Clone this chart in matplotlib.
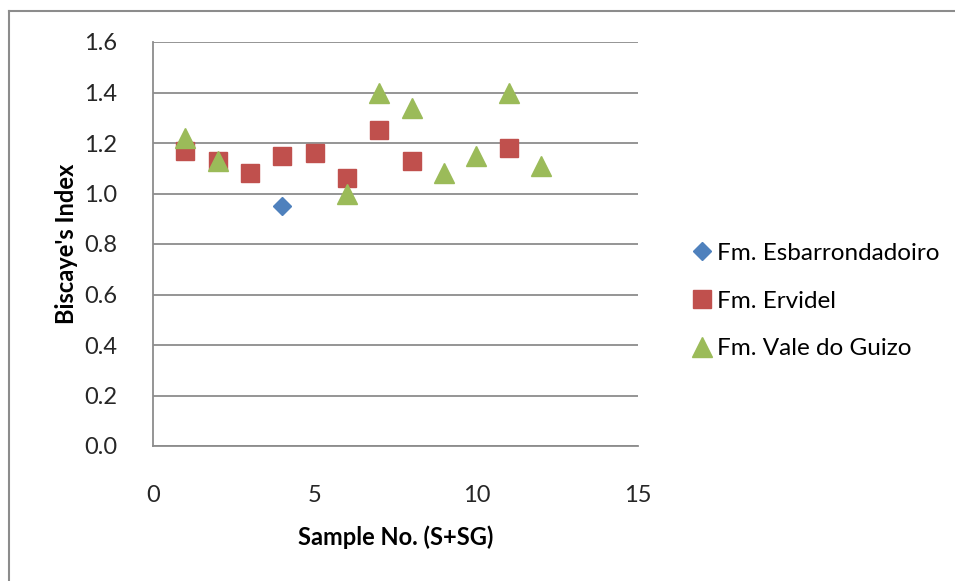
import matplotlib
matplotlib.use("Agg")
import matplotlib.pyplot as plt
from matplotlib.lines import Line2D

plt.rcParams['font.family'] = ['Lato', 'DejaVu Sans']

# Data
esb_x = [4]
esb_y = [0.95]
erv_x = [1, 2, 3, 4, 5, 6, 7, 8, 11]
erv_y = [1.17, 1.13, 1.08, 1.15, 1.16, 1.06, 1.25, 1.13, 1.18]
vdg_x = [1, 2, 6, 7, 8, 9, 10, 11, 12]
vdg_y = [1.22, 1.13, 1.00, 1.40, 1.34, 1.08, 1.15, 1.40, 1.11]
x_ticks = [0, 5, 10, 15]
y_ticks = [0.0, 0.2, 0.4, 0.6, 0.8, 1.0, 1.2, 1.4, 1.6]
labels = ['Fm. Esbarrondadoiro', 'Fm. Ervidel', 'Fm. Vale do Guizo']

W, H = 955, 581
fig = plt.figure(figsize=(W / 100, H / 100), dpi=100)

# outer chart border (partially visible)
grey = '#8c8c8c'
fig.add_artist(Line2D([9 / W, 1.0], [1 - 11 / H, 1 - 11 / H], transform=fig.transFigure, color=grey, lw=1.5))
fig.add_artist(Line2D([9 / W, 9 / W], [0.0, 1 - 11 / H], transform=fig.transFigure, color=grey, lw=1.5))

left, right, top, bottom = 153, 638, 42, 446
ax = fig.add_axes([left / W, 1 - bottom / H, (right - left) / W, (bottom - top) / H])

ax.plot(esb_x, esb_y, linestyle='none', marker='D', markersize=8.8, color='#4F81BD', label=labels[0], zorder=3)
ax.plot(erv_x, erv_y, linestyle='none', marker='s', markersize=13.5, color='#C0504D', label=labels[1], zorder=3)
ax.plot(vdg_x, vdg_y, linestyle='none', marker='^', markersize=14, color='#9BBB59', label=labels[2], zorder=4)

ax.set_xlim(0, 15)
ax.set_ylim(0, 1.6)
ax.set_xticks(x_ticks)
ax.set_yticks(y_ticks)
ax.set_yticklabels([f'{v:.1f}' for v in y_ticks])
ax.tick_params(length=0, labelsize=17, colors='#262626')
ax.tick_params(axis='y', pad=26)
ax.tick_params(axis='x', pad=28)
ax.yaxis.grid(True, color=grey, lw=1.3)
ax.set_axisbelow(True)
for s in ['top', 'right']:
    ax.spines[s].set_visible(False)
for s in ['left', 'bottom']:
    ax.spines[s].set_color(grey)
    ax.spines[s].set_linewidth(1.3)

ax.set_xlabel('Sample No. (S+SG)', fontsize=17, fontweight='bold', labelpad=14)
ax.set_ylabel("Biscaye's Index", fontsize=17, fontweight='bold', labelpad=4)

leg = fig.legend(loc='center left', bbox_to_anchor=(690 / W, 1 - 301 / H), frameon=False,
                 fontsize=17.5, handletextpad=0.1, labelspacing=1.1, handlelength=1.0,
                 borderaxespad=0, borderpad=0)

fig.savefig('out.png', dpi=100)
